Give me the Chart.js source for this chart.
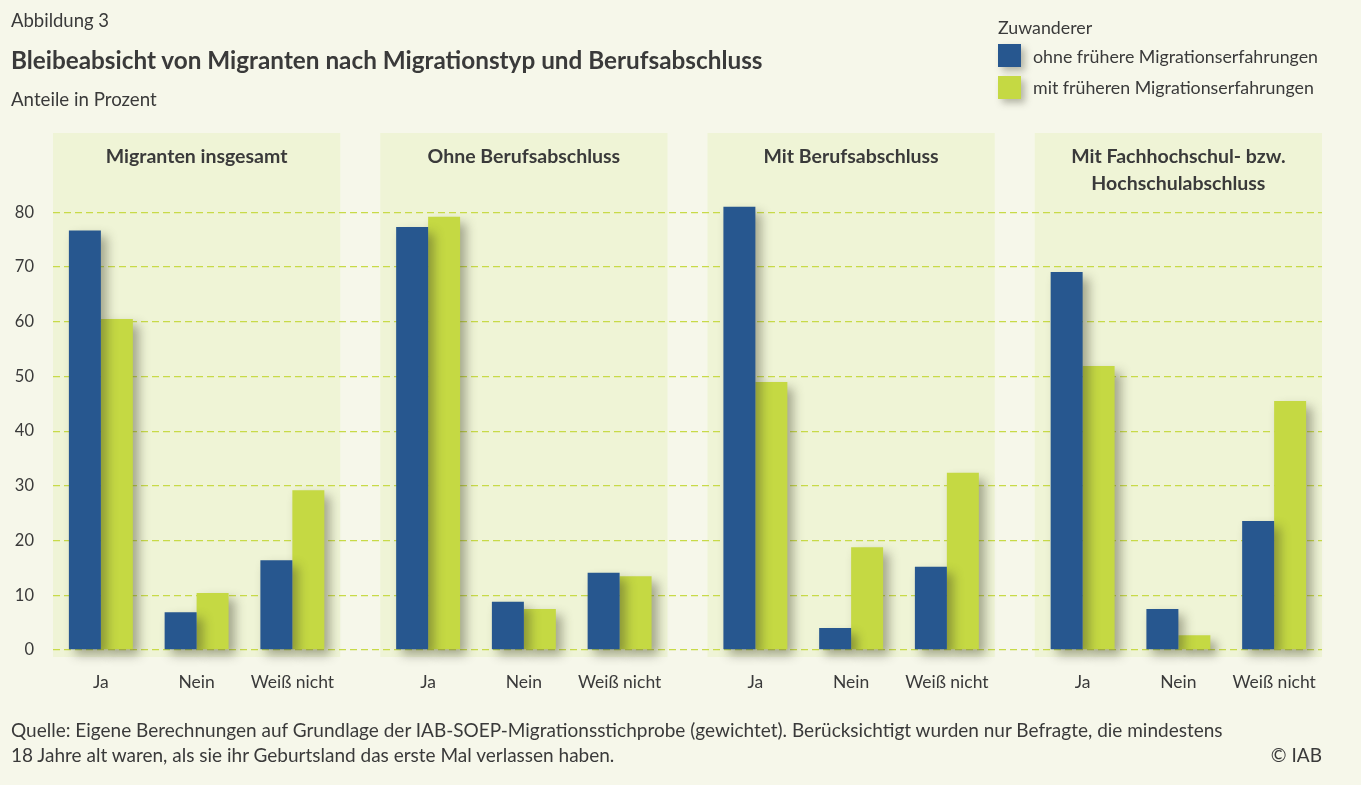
<!DOCTYPE html>
<html lang="de">
<head>
<meta charset="utf-8">
<script src="https://cdn.jsdelivr.net/npm/chart.js@4/dist/chart.umd.min.js"></script>
<style>
  html, body { margin: 0; padding: 0; background: #f6f7ea; }
  body { width: 1361px; height: 785px; position: relative; overflow: hidden;
         font-family: Lato, "Noto Sans", sans-serif; color: #3a3a3a; }
  #wrap { position: absolute; left: 0; top: 0; width: 1361px; height: 785px; }
  .txt { position: absolute; white-space: nowrap; line-height: 1.2; }
  #fig { left: 11px; top: 9px; font-size: 18.5px; }
  #title { left: 11px; top: 45px; font-size: 24.3px; font-weight: bold; }
  #sub { left: 11px; top: 88px; font-size: 18.7px; }
  #legTitle { left: 998px; top: 17px; font-size: 17.8px; }
  .sw { position: absolute; width: 23px; height: 23px; box-shadow: 4px 4px 7px rgba(60,60,40,0.35); }
  .legTxt { font-size: 17.8px; }
  #foot1 { left: 11px; top: 719px; font-size: 19px; }
  #foot2 { left: 11px; top: 744px; font-size: 19px; }
  #copy { right: 39px; top: 744px; font-size: 19px; }
</style>
</head>
<body>
<div id="wrap"><canvas id="chart"></canvas></div>
<div class="txt" id="fig">Abbildung 3</div>
<div class="txt" id="title">Bleibeabsicht von Migranten nach Migrationstyp und Berufsabschluss</div>
<div class="txt" id="sub">Anteile in Prozent</div>
<div class="txt" id="legTitle">Zuwanderer</div>
<div class="sw" style="left:998px;top:44px;background:#27578f"></div>
<div class="txt legTxt" style="left:1033px;top:46px">ohne frühere Migrationserfahrungen</div>
<div class="sw" style="left:998px;top:76px;background:#c5d943"></div>
<div class="txt legTxt" style="left:1033px;top:77px">mit früheren Migrationserfahrungen</div>
<div class="txt" id="foot1">Quelle: Eigene Berechnungen auf Grundlage der IAB-SOEP-Migrationsstichprobe (gewichtet). Berücksichtigt wurden nur Befragte, die mindestens</div>
<div class="txt" id="foot2">18 Jahre alt waren, als sie ihr Geburtsland das erste Mal verlassen haben.</div>
<div class="txt" id="copy">© IAB</div>
<script>
// data
const groupTitles = [
  ['Migranten insgesamt'],
  ['Ohne Berufsabschluss'],
  ['Mit Berufsabschluss'],
  ['Mit Fachhochschul- bzw.', 'Hochschulabschluss']
];
const answers = ['Ja', 'Nein', 'Weiß nicht'];
const seriesNames = ['ohne frühere Migrationserfahrungen', 'mit früheren Migrationserfahrungen'];
const ohneFruehere = [76.7, 6.9, 16.4, 77.3, 8.8, 14.1, 81.0, 4.0, 15.2, 69.1, 7.5, 23.6];
const mitFrueheren = [60.5, 10.4, 29.2, 79.2, 7.5, 13.5, 49.0, 18.8, 32.4, 51.9, 2.7, 45.5];
const yTicks = [0, 10, 20, 30, 40, 50, 60, 70, 80];

const BLUE = '#27578f';
const GREEN = '#c5d943';
const FONT = 'Lato, "Noto Sans", sans-serif';
const GAP = 0.418; // extra space between the groups, in category widths
const groupStart = g => g * (answers.length + GAP);
const xPos = i => groupStart(Math.floor(i / answers.length)) + (i % answers.length);
const xs = ohneFruehere.map((v, i) => xPos(i));

const panels = {
  id: 'panels',
  beforeDraw(chart) {
    const {ctx, chartArea, scales: {x}} = chart;
    ctx.save();
    groupTitles.forEach((t, g) => {
      const l = x.getPixelForValue(groupStart(g) - 0.5);
      const r = x.getPixelForValue(groupStart(g) + answers.length - 0.5);
      ctx.fillStyle = '#eff4d6';
      ctx.fillRect(l, chartArea.top, r - l, chartArea.bottom - chartArea.top);
      ctx.fillStyle = '#3a3a3a';
      ctx.font = 'bold 19.5px ' + FONT;
      ctx.textAlign = 'center';
      ctx.textBaseline = 'middle';
      t.forEach((line, k) => ctx.fillText(line, (l + r) / 2, 157 + k * 27));
    });
    ctx.restore();
  },
  beforeDatasetsDraw(chart) {
    const ctx = chart.ctx;
    ctx.save();
    ctx.shadowColor = 'rgba(60,60,40,0.42)';
    ctx.shadowBlur = 10;
    ctx.shadowOffsetX = 6;
    ctx.shadowOffsetY = 6;
  },
  afterDatasetsDraw(chart) {
    chart.ctx.restore();
  }
};

new Chart(document.getElementById('chart'), {
  type: 'bar',
  data: {
    datasets: [
      { label: seriesNames[0], data: ohneFruehere.map((v, i) => ({x: xs[i], y: v})), backgroundColor: BLUE, clip: false },
      { label: seriesNames[1], data: mitFrueheren.map((v, i) => ({x: xs[i], y: v})), backgroundColor: GREEN, clip: false }
    ]
  },
  options: {
    responsive: true,
    maintainAspectRatio: false,
    animation: false,
    categoryPercentage: 0.668,
    barPercentage: 1,
    layout: { padding: { left: 0, right: 39, top: 133, bottom: 0 } },
    plugins: { legend: { display: false }, tooltip: { enabled: false } },
    scales: {
      x: {
        type: 'linear',
        offset: false,
        min: -0.5,
        max: groupStart(groupTitles.length - 1) + answers.length - 0.5,
        grid: { display: false },
        border: { display: false },
        afterBuildTicks: s => { s.ticks = xs.map(v => ({value: v})); },
        afterFit: s => { s.height = 128; },
        ticks: {
          autoSkip: false, maxRotation: 0, padding: 7,
          color: '#3a3a3a',
          font: { family: FONT, size: 17.5 },
          callback: (v, i) => answers[i % answers.length]
        }
      },
      y: {
        min: -1.28,
        max: 94.5,
        afterBuildTicks: s => { s.ticks = yTicks.map(v => ({value: v})); },
        afterFit: s => { s.width = 53; },
        grid: {
          color: '#c8da48',
          lineWidth: 1.3,
          drawTicks: false
        },
        border: { display: false, dash: [7, 4] },
        ticks: {
          padding: 19,
          color: '#3a3a3a',
          font: { family: FONT, size: 16.5 }
        }
      }
    }
  },
  plugins: [panels]
});
</script>
</body>
</html>
